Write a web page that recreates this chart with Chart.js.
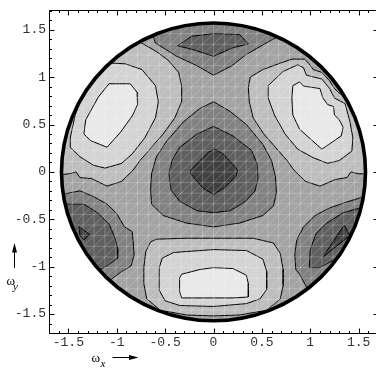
<!DOCTYPE html>
<html>
<head>
<meta charset="utf-8">
<script src="https://cdn.jsdelivr.net/npm/chart.js@4.4.1/dist/chart.umd.min.js"></script>
<style>
  html, body { margin:0; padding:0; background:#fff; overflow:hidden; }
  #wrap { width:378px; height:371px; }
</style>
</head>
<body>
<div id="wrap"><canvas id="c" width="378" height="371"></canvas></div>
<script>
// axis range and ticks (omega_x, omega_y)
const RANGE = [-1.7, 1.7];
const TICK_VALUES = [-1.5, -1, -0.5, 0, 0.5, 1, 1.5];
const MINOR_STEP = 0.1;
const DISK_R = 1.5708;     // rim of the disk (pi/2)
const MESH_STEP = 0.1122;  // sampling mesh, shows as faint seams

// gray levels of the contour bands, dark -> light
const SHADES = ['#404040', '#5f5f5f', '#818181', '#a3a3a3', '#bdbdbd', '#d3d3d3', '#e8e8e8'];

// contour polygons, [wx, wy]
const BASE = [[-1.8,-1.8],[1.8,-1.8],[1.8,1.8],[-1.8,1.8]];

const CENTER_L2 = [[0,0.74],[0.17,0.64],[0.34,0.50],[0.51,0.29],[0.60,0.12],[0.64,-0.05],[0.65,-0.22],[0.62,-0.36],[0.51,-0.46],[0.27,-0.54],[0,-0.58],[-0.28,-0.54],[-0.52,-0.46],[-0.64,-0.34],[-0.65,-0.19],[-0.64,-0.02],[-0.59,0.16],[-0.48,0.33],[-0.31,0.53],[-0.14,0.67]];
const CENTER_L1 = [[0,0.48],[0.20,0.38],[0.39,0.23],[0.45,0.09],[0.46,-0.07],[0.43,-0.20],[0.32,-0.32],[0.17,-0.41],[0,-0.43],[-0.17,-0.41],[-0.35,-0.31],[-0.44,-0.19],[-0.46,-0.02],[-0.43,0.12],[-0.35,0.26],[-0.17,0.40]];
const CENTER_L0 = [[0.015,0.24],[0.10,0.19],[0.20,0.08],[0.25,0.02],[0.23,-0.05],[0.11,-0.17],[0,-0.24],[-0.11,-0.17],[-0.235,-0.02],[-0.235,0.02],[-0.14,0.12],[-0.05,0.21]];

const TOP_L2 = [[-0.72,1.8],[-0.72,1.60],[-0.64,1.48],[-0.60,1.36],[-0.38,1.22],[-0.17,1.12],[0,1.02],[0.19,1.12],[0.34,1.24],[0.51,1.34],[0.67,1.43],[0.75,1.53],[0.75,1.8]];
const TOP_L1 = [[-0.37,1.33],[-0.23,1.43],[0,1.46],[0.27,1.45],[0.36,1.35],[0.20,1.31],[0,1.22],[-0.21,1.29]];

const LL_L2 = [[-1.8,-0.19],[-1.53,-0.23],[-1.38,-0.20],[-1.24,-0.26],[-1.10,-0.34],[-1.00,-0.44],[-0.92,-0.58],[-0.84,-0.63],[-0.83,-0.74],[-0.82,-0.87],[-0.85,-0.99],[-0.96,-1.06],[-1.17,-1.22],[-1.8,-1.22]];
const LL_L1 = [[-1.8,-0.32],[-1.48,-0.34],[-1.34,-0.34],[-1.20,-0.43],[-1.08,-0.55],[-1.02,-0.69],[-0.99,-0.81],[-0.99,-0.91],[-1.10,-0.99],[-1.20,-1.05],[-1.8,-1.08]];
const LL_L0 = [[-1.39,-0.58],[-1.28,-0.66],[-1.34,-0.72],[-1.38,-0.67]];

const LR_L2 = [[1.8,-0.26],[1.53,-0.27],[1.37,-0.32],[1.20,-0.38],[1.05,-0.46],[0.93,-0.58],[0.86,-0.72],[0.84,-0.87],[0.85,-1.03],[0.89,-1.08],[1.00,-1.29],[1.8,-1.29]];
const LR_L1 = [[1.8,-0.36],[1.48,-0.39],[1.34,-0.43],[1.17,-0.54],[1.06,-0.65],[1.00,-0.82],[0.99,-1.01],[1.10,-1.01],[1.24,-0.93],[1.40,-0.95],[1.8,-0.9]];
const LR_L0 = [[1.35,-0.56],[1.41,-0.67],[1.13,-0.90]];

const UL_L4 = [[-0.90,1.46],[-0.76,1.37],[-0.59,1.27],[-0.47,1.18],[-0.36,1.05],[-0.33,0.91],[-0.33,0.74],[-0.40,0.57],[-0.52,0.40],[-0.64,0.26],[-0.76,0.12],[-0.83,0.02],[-0.95,-0.10],[-1.10,-0.15],[-1.26,-0.07],[-1.38,-0.06],[-1.42,0.00],[-1.49,-0.02],[-1.8,-0.05],[-1.8,1.46]];
const UL_L5 = [[-1.08,1.15],[-0.91,1.14],[-0.74,1.08],[-0.60,0.91],[-0.57,0.74],[-0.60,0.57],[-0.71,0.36],[-0.84,0.19],[-0.95,0.09],[-1.12,0.04],[-1.24,0.07],[-1.38,0.16],[-1.48,0.26],[-1.48,0.36],[-1.43,0.60],[-1.36,0.79],[-1.22,1.05]];
const UL_L6 = [[-1.08,0.93],[-0.86,0.93],[-0.79,0.84],[-0.785,0.71],[-0.84,0.59],[-0.96,0.42],[-1.10,0.26],[-1.27,0.33],[-1.34,0.40],[-1.32,0.55],[-1.19,0.79]];

const UR_L4 = [[0.36,0.89],[0.38,1.00],[0.51,1.08],[0.67,1.14],[0.81,1.19],[0.94,1.19],[0.99,1.14],[1.03,1.08],[1.12,1.05],[1.20,0.96],[1.25,0.88],[1.30,0.83],[1.39,0.78],[1.44,0.69],[1.8,0.6],[1.8,-0.02],[1.50,-0.02],[1.42,0.00],[1.38,-0.06],[1.26,-0.08],[1.10,-0.15],[0.95,-0.10],[0.83,0.02],[0.76,0.12],[0.64,0.26],[0.52,0.40],[0.41,0.57],[0.37,0.74]];
const UR_L5 = [[0.565,0.91],[0.72,1.06],[0.87,1.13],[0.93,1.10],[0.96,1.02],[1.12,0.98],[1.20,0.88],[1.25,0.78],[1.36,0.72],[1.41,0.53],[1.44,0.36],[1.43,0.22],[1.30,0.12],[1.18,0.09],[1.03,0.15],[0.87,0.24],[0.74,0.40],[0.63,0.60],[0.565,0.78]];
const UR_L6 = [[0.82,0.91],[0.89,0.95],[0.93,0.905],[1.10,0.88],[1.13,0.78],[1.18,0.71],[1.24,0.69],[1.25,0.60],[1.30,0.55],[1.34,0.47],[1.32,0.38],[1.12,0.24],[0.89,0.45],[0.82,0.60],[0.81,0.78]];

const B_L4 = [[-0.65,-0.74],[-0.59,-0.71],[-0.28,-0.70],[0,-0.70],[0.41,-0.70],[0.62,-0.75],[0.69,-0.86],[0.72,-1.03],[0.72,-1.20],[0.69,-1.34],[0.55,-1.46],[0.27,-1.51],[0,-1.52],[-0.28,-1.51],[-0.55,-1.46],[-0.69,-1.34],[-0.72,-1.18],[-0.72,-1.01],[-0.70,-0.84]];
const B_L5 = [[-0.56,-1.01],[-0.53,-0.91],[-0.41,-0.85],[0,-0.82],[0.34,-0.83],[0.51,-0.92],[0.55,-1.05],[0.55,-1.24],[0.48,-1.34],[0.34,-1.39],[0,-1.42],[-0.35,-1.41],[-0.50,-1.36],[-0.56,-1.25]];
const B_L6 = [[-0.35,-1.12],[-0.33,-1.08],[-0.14,-1.03],[0,-1.01],[0.20,-1.02],[0.34,-1.09],[0.36,-1.18],[0.36,-1.32],[0.20,-1.33],[0,-1.33],[-0.33,-1.33],[-0.35,-1.26]];

// back to front: [polygon, shade index, contour line?]
const LAYERS = [
  [BASE, 3, false],
  [CENTER_L2, 2, true], [CENTER_L1, 1, true], [CENTER_L0, 0, true],
  [TOP_L2, 2, true], [TOP_L1, 1, true],
  [LL_L2, 2, true], [LL_L1, 1, true], [LL_L0, 0, true],
  [LR_L2, 2, true], [LR_L1, 1, true], [LR_L0, 0, true],
  [UL_L4, 4, true], [UL_L5, 5, true], [UL_L6, 6, true],
  [UR_L4, 4, true], [UR_L5, 5, true], [UR_L6, 6, true],
  [B_L4, 4, true], [B_L5, 5, true], [B_L6, 6, true]
];

function px(s, v){ return s.getPixelForValue(v); }

// clip the bands to the disk, add mesh seams, then the rim
const diskPlugin = {
  id: 'disk',
  beforeDatasetsDraw(chart){
    const {ctx, scales:{x, y}} = chart;
    ctx.save();
    ctx.beginPath();
    ctx.ellipse(px(x,0), px(y,0), px(x,DISK_R)-px(x,0), px(y,0)-px(y,DISK_R), 0, 0, Math.PI*2);
    ctx.clip();
  },
  afterDatasetsDraw(chart){
    const {ctx, scales:{x, y}} = chart;
    const n = Math.ceil(2/MESH_STEP);
    ctx.strokeStyle = 'rgba(255,255,255,0.22)';
    ctx.lineWidth = 1;
    ctx.beginPath();
    for (let k = -n; k <= n; k++){
      const v = k*MESH_STEP;
      ctx.moveTo(px(x,v), px(y,-2)); ctx.lineTo(px(x,v), px(y,2));
      ctx.moveTo(px(x,-2), px(y,v)); ctx.lineTo(px(x,2), px(y,v));
    }
    for (let k = -2*n; k <= 2*n; k++){
      const c = k*MESH_STEP;
      ctx.moveTo(px(x,-2), px(y,-2+c)); ctx.lineTo(px(x,2), px(y,2+c));
    }
    ctx.stroke();
    ctx.restore();

    ctx.save();
    ctx.beginPath();
    ctx.ellipse(px(x,0), px(y,0), px(x,DISK_R)-px(x,0), px(y,0)-px(y,DISK_R), 0, 0, Math.PI*2);
    ctx.lineWidth = 3.6;
    ctx.strokeStyle = '#000';
    ctx.stroke();
    ctx.restore();
  }
};

// Mathematica style frame: inward ticks on every side, axis labels with arrows
const framePlugin = {
  id: 'frame',
  afterDraw(chart){
    const {ctx, chartArea:a, scales:{x, y}} = chart;
    const L = Math.floor(a.left)+0.5, R = Math.floor(a.right)+0.5;
    const T = Math.floor(a.top)+0.5, B = Math.floor(a.bottom)+0.5;
    ctx.save();
    ctx.strokeStyle = '#000'; ctx.lineWidth = 1;
    ctx.beginPath();
    ctx.rect(L, T, R-L, B-T);
    const nMin = Math.round((RANGE[1]-RANGE[0])/MINOR_STEP);
    for (let i = 0; i <= nMin; i++){
      const v = RANGE[0] + i*MINOR_STEP;
      const major = Math.abs(v*2 - Math.round(v*2)) < 1e-6;
      const len = major ? 5 : 2.5;
      const xp = Math.round(px(x,v))+0.5, yp = Math.round(px(y,v))+0.5;
      ctx.moveTo(xp, B); ctx.lineTo(xp, B-len);
      ctx.moveTo(xp, T); ctx.lineTo(xp, T+len);
      ctx.moveTo(L, yp); ctx.lineTo(L+len, yp);
      ctx.moveTo(R, yp); ctx.lineTo(R-len, yp);
    }
    ctx.stroke();

    // axis titles
    ctx.fillStyle = '#000';
    ctx.textBaseline = 'alphabetic';
    ctx.font = '13px "Liberation Serif"';
    ctx.fillText('\u03c9', 91.5, 362);
    ctx.fillText('\u03c9', 6.5, 284.5);
    ctx.font = 'italic 11px "Liberation Serif"';
    ctx.fillText('x', 100.5, 366.5);
    ctx.fillText('y', 13, 289.5);

    ctx.beginPath();
    ctx.moveTo(112.5, 357.5); ctx.lineTo(131, 357.5);
    ctx.moveTo(14.5, 268); ctx.lineTo(14.5, 250);
    ctx.stroke();
    ctx.beginPath();
    ctx.moveTo(138.5, 357.5); ctx.lineTo(129, 355); ctx.lineTo(129, 360); ctx.closePath();
    ctx.moveTo(14.5, 243); ctx.lineTo(12, 252.5); ctx.lineTo(17, 252.5); ctx.closePath();
    ctx.fill();
    ctx.restore();
  }
};

const tickFont = { family: '"Liberation Mono", "DejaVu Sans Mono", monospace', size: 13 };

new Chart(document.getElementById('c'), {
  type: 'scatter',
  data: {
    datasets: LAYERS.map(([poly, shade, edge], i) => ({
      data: poly.concat([poly[0]]).map(([wx, wy]) => ({ x: wx, y: wy })),
      showLine: true,
      fill: 'shape',
      backgroundColor: SHADES[shade],
      borderColor: edge ? '#000' : 'rgba(0,0,0,0)',
      borderWidth: edge ? 1 : 0,
      pointRadius: 0,
      tension: 0,
      order: LAYERS.length - i
    }))
  },
  options: {
    responsive: false,
    animation: false,
    events: [],
    layout: { padding: { top: 4, right: 0, left: 0, bottom: 0 } },
    plugins: { legend: { display: false }, tooltip: { enabled: false } },
    scales: {
      x: {
        type: 'linear', min: RANGE[0], max: RANGE[1],
        grid: { display: false, drawTicks: false },
        border: { display: false },
        afterBuildTicks: s => { s.ticks = TICK_VALUES.map(v => ({ value: v })); },
        afterFit: s => { s.height = 38; },
        ticks: { font: tickFont, color: '#333', padding: 2, maxRotation: 0, autoSkip: false, callback: v => String(v) }
      },
      y: {
        type: 'linear', min: RANGE[0], max: RANGE[1],
        grid: { display: false, drawTicks: false },
        border: { display: false },
        afterBuildTicks: s => { s.ticks = TICK_VALUES.map(v => ({ value: v })); },
        afterFit: s => { s.width = 49; },
        ticks: { font: tickFont, color: '#333', padding: 3, autoSkip: false, callback: v => String(v) }
      }
    }
  },
  plugins: [diskPlugin, framePlugin]
});
</script>
</body>
</html>
